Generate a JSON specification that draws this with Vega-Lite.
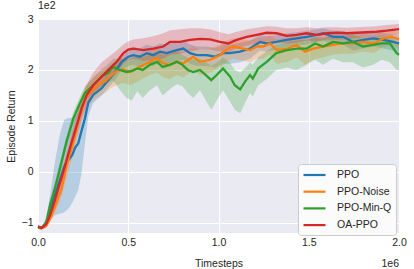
{
"$schema":"https://vega.github.io/schema/vega-lite/v6.json",
"autosize":"none",
"width":361,"height":214,
"padding":{"left":38,"top":19,"right":15,"bottom":36},
"background":"#ffffff",
"title":{"text":"1e2","anchor":"start","frame":"group","offset":3,"fontSize":10.5,"fontWeight":"normal","font":"Liberation Sans","color":"#262626"},
"datasets":{
"curves":[
{"s":"PPO","x":0,"y":-1.08,"lo":-1.12,"hi":-1.04},{"s":"PPO","x":0.02,"y":-1.1,"lo":-1.13,"hi":-1.07},{"s":"PPO","x":0.045,"y":-1.02,"lo":-1.1,"hi":-0.9},{"s":"PPO","x":0.067,"y":-0.78,"lo":-0.95,"hi":-0.45},{"s":"PPO","x":0.094,"y":-0.45,"lo":-0.85,"hi":0.2},{"s":"PPO","x":0.122,"y":-0.15,"lo":-0.82,"hi":0.75},{"s":"PPO","x":0.145,"y":0.1,"lo":-0.8,"hi":1.02},{"s":"PPO","x":0.16,"y":0.2,"lo":-0.75,"hi":1.05},{"s":"PPO","x":0.175,"y":0.26,"lo":-0.7,"hi":1.05},{"s":"PPO","x":0.19,"y":0.33,"lo":-0.6,"hi":1.06},{"s":"PPO","x":0.205,"y":0.47,"lo":-0.5,"hi":1.08},{"s":"PPO","x":0.223,"y":0.56,"lo":-0.35,"hi":1.15},{"s":"PPO","x":0.24,"y":0.79,"lo":-0.05,"hi":1.3},{"s":"PPO","x":0.26,"y":1.05,"lo":0.55,"hi":1.42},{"s":"PPO","x":0.279,"y":1.36,"lo":1.1,"hi":1.55},{"s":"PPO","x":0.306,"y":1.51,"lo":1.35,"hi":1.68},{"s":"PPO","x":0.353,"y":1.64,"lo":1.5,"hi":1.8},{"s":"PPO","x":0.39,"y":1.8,"lo":1.65,"hi":1.96},{"s":"PPO","x":0.427,"y":1.96,"lo":1.8,"hi":2.12},{"s":"PPO","x":0.464,"y":2.16,"lo":2.0,"hi":2.32},{"s":"PPO","x":0.5,"y":2.26,"lo":2.08,"hi":2.42},{"s":"PPO","x":0.528,"y":2.29,"lo":2.1,"hi":2.45},{"s":"PPO","x":0.565,"y":2.26,"lo":2.06,"hi":2.42},{"s":"PPO","x":0.602,"y":2.33,"lo":2.12,"hi":2.5},{"s":"PPO","x":0.639,"y":2.29,"lo":2.08,"hi":2.46},{"s":"PPO","x":0.676,"y":2.36,"lo":2.15,"hi":2.52},{"s":"PPO","x":0.713,"y":2.33,"lo":2.12,"hi":2.5},{"s":"PPO","x":0.768,"y":2.39,"lo":2.18,"hi":2.56},{"s":"PPO","x":0.805,"y":2.42,"lo":2.2,"hi":2.58},{"s":"PPO","x":0.842,"y":2.33,"lo":2.12,"hi":2.5},{"s":"PPO","x":0.879,"y":2.29,"lo":2.08,"hi":2.46},{"s":"PPO","x":0.935,"y":2.29,"lo":2.08,"hi":2.46},{"s":"PPO","x":0.98,"y":2.26,"lo":2.05,"hi":2.43},{"s":"PPO","x":1.027,"y":2.33,"lo":2.12,"hi":2.5},{"s":"PPO","x":1.064,"y":2.33,"lo":2.12,"hi":2.5},{"s":"PPO","x":1.119,"y":2.36,"lo":2.15,"hi":2.53},{"s":"PPO","x":1.175,"y":2.42,"lo":2.22,"hi":2.58},{"s":"PPO","x":1.23,"y":2.55,"lo":2.38,"hi":2.68},{"s":"PPO","x":1.267,"y":2.52,"lo":2.35,"hi":2.66},{"s":"PPO","x":1.322,"y":2.55,"lo":2.4,"hi":2.68},{"s":"PPO","x":1.378,"y":2.59,"lo":2.45,"hi":2.72},{"s":"PPO","x":1.433,"y":2.62,"lo":2.48,"hi":2.74},{"s":"PPO","x":1.489,"y":2.65,"lo":2.5,"hi":2.77},{"s":"PPO","x":1.544,"y":2.69,"lo":2.55,"hi":2.8},{"s":"PPO","x":1.58,"y":2.72,"lo":2.58,"hi":2.82},{"s":"PPO","x":1.636,"y":2.65,"lo":2.5,"hi":2.77},{"s":"PPO","x":1.69,"y":2.65,"lo":2.5,"hi":2.77},{"s":"PPO","x":1.747,"y":2.55,"lo":2.38,"hi":2.7},{"s":"PPO","x":1.8,"y":2.59,"lo":2.42,"hi":2.72},{"s":"PPO","x":1.858,"y":2.62,"lo":2.46,"hi":2.74},{"s":"PPO","x":1.913,"y":2.59,"lo":2.42,"hi":2.72},{"s":"PPO","x":1.968,"y":2.55,"lo":2.38,"hi":2.7},{"s":"PPO","x":2.0,"y":2.52,"lo":2.35,"hi":2.68},
{"s":"PPO-Noise","x":0,"y":-1.08,"lo":-1.12,"hi":-1.04},{"s":"PPO-Noise","x":0.02,"y":-1.1,"lo":-1.13,"hi":-1.07},{"s":"PPO-Noise","x":0.045,"y":-1.06,"lo":-1.1,"hi":-1.0},{"s":"PPO-Noise","x":0.067,"y":-0.92,"lo":-1.0,"hi":-0.8},{"s":"PPO-Noise","x":0.094,"y":-0.68,"lo":-0.8,"hi":-0.5},{"s":"PPO-Noise","x":0.131,"y":-0.33,"lo":-0.5,"hi":-0.1},{"s":"PPO-Noise","x":0.155,"y":0.07,"lo":-0.15,"hi":0.3},{"s":"PPO-Noise","x":0.196,"y":0.59,"lo":0.35,"hi":0.85},{"s":"PPO-Noise","x":0.22,"y":0.95,"lo":0.7,"hi":1.2},{"s":"PPO-Noise","x":0.26,"y":1.44,"lo":1.2,"hi":1.65},{"s":"PPO-Noise","x":0.306,"y":1.62,"lo":1.4,"hi":1.85},{"s":"PPO-Noise","x":0.343,"y":1.74,"lo":1.5,"hi":1.95},{"s":"PPO-Noise","x":0.371,"y":1.77,"lo":1.55,"hi":2.0},{"s":"PPO-Noise","x":0.408,"y":1.9,"lo":1.65,"hi":2.12},{"s":"PPO-Noise","x":0.436,"y":1.98,"lo":1.7,"hi":2.2},{"s":"PPO-Noise","x":0.47,"y":2.01,"lo":1.75,"hi":2.25},{"s":"PPO-Noise","x":0.51,"y":1.96,"lo":1.7,"hi":2.22},{"s":"PPO-Noise","x":0.565,"y":2.06,"lo":1.8,"hi":2.3},{"s":"PPO-Noise","x":0.62,"y":2.16,"lo":1.9,"hi":2.38},{"s":"PPO-Noise","x":0.657,"y":2.23,"lo":1.95,"hi":2.42},{"s":"PPO-Noise","x":0.694,"y":2.13,"lo":1.85,"hi":2.36},{"s":"PPO-Noise","x":0.73,"y":2.1,"lo":1.82,"hi":2.34},{"s":"PPO-Noise","x":0.768,"y":2.16,"lo":1.9,"hi":2.38},{"s":"PPO-Noise","x":0.805,"y":2.13,"lo":1.85,"hi":2.36},{"s":"PPO-Noise","x":0.86,"y":2.26,"lo":2.0,"hi":2.46},{"s":"PPO-Noise","x":0.897,"y":2.16,"lo":1.9,"hi":2.4},{"s":"PPO-Noise","x":0.953,"y":2.2,"lo":1.95,"hi":2.42},{"s":"PPO-Noise","x":1.008,"y":2.29,"lo":2.05,"hi":2.5},{"s":"PPO-Noise","x":1.045,"y":2.4,"lo":2.15,"hi":2.58},{"s":"PPO-Noise","x":1.08,"y":2.46,"lo":2.22,"hi":2.62},{"s":"PPO-Noise","x":1.137,"y":2.42,"lo":2.18,"hi":2.6},{"s":"PPO-Noise","x":1.175,"y":2.39,"lo":2.15,"hi":2.58},{"s":"PPO-Noise","x":1.212,"y":2.46,"lo":2.22,"hi":2.62},{"s":"PPO-Noise","x":1.248,"y":2.46,"lo":2.22,"hi":2.63},{"s":"PPO-Noise","x":1.285,"y":2.52,"lo":2.3,"hi":2.68},{"s":"PPO-Noise","x":1.322,"y":2.39,"lo":2.12,"hi":2.6},{"s":"PPO-Noise","x":1.378,"y":2.42,"lo":2.15,"hi":2.62},{"s":"PPO-Noise","x":1.433,"y":2.49,"lo":2.25,"hi":2.66},{"s":"PPO-Noise","x":1.479,"y":2.36,"lo":2.1,"hi":2.58},{"s":"PPO-Noise","x":1.525,"y":2.42,"lo":2.2,"hi":2.62},{"s":"PPO-Noise","x":1.58,"y":2.46,"lo":2.25,"hi":2.64},{"s":"PPO-Noise","x":1.636,"y":2.49,"lo":2.3,"hi":2.66},{"s":"PPO-Noise","x":1.69,"y":2.52,"lo":2.32,"hi":2.68},{"s":"PPO-Noise","x":1.747,"y":2.52,"lo":2.32,"hi":2.68},{"s":"PPO-Noise","x":1.8,"y":2.55,"lo":2.36,"hi":2.7},{"s":"PPO-Noise","x":1.858,"y":2.52,"lo":2.33,"hi":2.68},{"s":"PPO-Noise","x":1.913,"y":2.62,"lo":2.45,"hi":2.76},{"s":"PPO-Noise","x":1.96,"y":2.65,"lo":2.48,"hi":2.78},{"s":"PPO-Noise","x":2.0,"y":2.6,"lo":2.42,"hi":2.75},
{"s":"PPO-Min-Q","x":0,"y":-1.08,"lo":-1.11,"hi":-1.05},{"s":"PPO-Min-Q","x":0.02,"y":-1.1,"lo":-1.13,"hi":-1.07},{"s":"PPO-Min-Q","x":0.045,"y":-1.0,"lo":-1.05,"hi":-0.95},{"s":"PPO-Min-Q","x":0.067,"y":-0.65,"lo":-0.75,"hi":-0.55},{"s":"PPO-Min-Q","x":0.094,"y":-0.32,"lo":-0.43,"hi":-0.2},{"s":"PPO-Min-Q","x":0.122,"y":0.07,"lo":-0.06,"hi":0.2},{"s":"PPO-Min-Q","x":0.158,"y":0.59,"lo":0.45,"hi":0.72},{"s":"PPO-Min-Q","x":0.196,"y":1.05,"lo":0.9,"hi":1.18},{"s":"PPO-Min-Q","x":0.233,"y":1.35,"lo":1.2,"hi":1.48},{"s":"PPO-Min-Q","x":0.26,"y":1.55,"lo":1.4,"hi":1.68},{"s":"PPO-Min-Q","x":0.305,"y":1.7,"lo":1.55,"hi":1.85},{"s":"PPO-Min-Q","x":0.353,"y":1.87,"lo":1.7,"hi":2.02},{"s":"PPO-Min-Q","x":0.39,"y":1.95,"lo":1.75,"hi":2.12},{"s":"PPO-Min-Q","x":0.415,"y":2.06,"lo":1.8,"hi":2.22},{"s":"PPO-Min-Q","x":0.455,"y":2.0,"lo":1.6,"hi":2.22},{"s":"PPO-Min-Q","x":0.49,"y":1.96,"lo":1.45,"hi":2.2},{"s":"PPO-Min-Q","x":0.52,"y":1.98,"lo":1.4,"hi":2.24},{"s":"PPO-Min-Q","x":0.55,"y":2.03,"lo":1.58,"hi":2.26},{"s":"PPO-Min-Q","x":0.58,"y":2.0,"lo":1.45,"hi":2.25},{"s":"PPO-Min-Q","x":0.62,"y":2.1,"lo":1.6,"hi":2.3},{"s":"PPO-Min-Q","x":0.66,"y":2.16,"lo":1.7,"hi":2.36},{"s":"PPO-Min-Q","x":0.69,"y":2.06,"lo":1.5,"hi":2.3},{"s":"PPO-Min-Q","x":0.73,"y":2.1,"lo":1.62,"hi":2.32},{"s":"PPO-Min-Q","x":0.77,"y":2.16,"lo":1.72,"hi":2.36},{"s":"PPO-Min-Q","x":0.8,"y":2.1,"lo":1.68,"hi":2.3},{"s":"PPO-Min-Q","x":0.83,"y":2.0,"lo":1.55,"hi":2.24},{"s":"PPO-Min-Q","x":0.86,"y":1.96,"lo":1.45,"hi":2.2},{"s":"PPO-Min-Q","x":0.897,"y":2.0,"lo":1.6,"hi":2.22},{"s":"PPO-Min-Q","x":0.93,"y":1.9,"lo":1.4,"hi":2.15},{"s":"PPO-Min-Q","x":0.96,"y":1.8,"lo":1.22,"hi":2.08},{"s":"PPO-Min-Q","x":0.99,"y":1.9,"lo":1.4,"hi":2.14},{"s":"PPO-Min-Q","x":1.025,"y":2.03,"lo":1.6,"hi":2.25},{"s":"PPO-Min-Q","x":1.064,"y":1.87,"lo":1.38,"hi":2.14},{"s":"PPO-Min-Q","x":1.09,"y":1.7,"lo":1.22,"hi":2.0},{"s":"PPO-Min-Q","x":1.12,"y":1.62,"lo":1.15,"hi":1.95},{"s":"PPO-Min-Q","x":1.147,"y":1.77,"lo":1.35,"hi":2.04},{"s":"PPO-Min-Q","x":1.175,"y":1.9,"lo":1.55,"hi":2.14},{"s":"PPO-Min-Q","x":1.19,"y":1.83,"lo":1.48,"hi":2.1},{"s":"PPO-Min-Q","x":1.22,"y":2.03,"lo":1.7,"hi":2.25},{"s":"PPO-Min-Q","x":1.267,"y":2.16,"lo":1.82,"hi":2.36},{"s":"PPO-Min-Q","x":1.32,"y":2.33,"lo":2.0,"hi":2.5},{"s":"PPO-Min-Q","x":1.378,"y":2.39,"lo":2.05,"hi":2.55},{"s":"PPO-Min-Q","x":1.433,"y":2.42,"lo":2.0,"hi":2.58},{"s":"PPO-Min-Q","x":1.489,"y":2.42,"lo":2.1,"hi":2.6},{"s":"PPO-Min-Q","x":1.535,"y":2.52,"lo":2.2,"hi":2.65},{"s":"PPO-Min-Q","x":1.579,"y":2.46,"lo":2.1,"hi":2.62},{"s":"PPO-Min-Q","x":1.634,"y":2.55,"lo":2.22,"hi":2.68},{"s":"PPO-Min-Q","x":1.69,"y":2.52,"lo":2.15,"hi":2.66},{"s":"PPO-Min-Q","x":1.745,"y":2.55,"lo":2.15,"hi":2.7},{"s":"PPO-Min-Q","x":1.8,"y":2.46,"lo":2.05,"hi":2.62},{"s":"PPO-Min-Q","x":1.856,"y":2.49,"lo":2.1,"hi":2.65},{"s":"PPO-Min-Q","x":1.904,"y":2.52,"lo":2.2,"hi":2.66},{"s":"PPO-Min-Q","x":1.95,"y":2.52,"lo":2.15,"hi":2.66},{"s":"PPO-Min-Q","x":1.987,"y":2.33,"lo":2.0,"hi":2.55},{"s":"PPO-Min-Q","x":2.0,"y":2.3,"lo":2.0,"hi":2.52},
{"s":"OA-PPO","x":0,"y":-1.08,"lo":-1.11,"hi":-1.05},{"s":"OA-PPO","x":0.02,"y":-1.1,"lo":-1.13,"hi":-1.07},{"s":"OA-PPO","x":0.045,"y":-1.03,"lo":-1.08,"hi":-0.97},{"s":"OA-PPO","x":0.067,"y":-0.85,"lo":-0.95,"hi":-0.74},{"s":"OA-PPO","x":0.094,"y":-0.55,"lo":-0.68,"hi":-0.42},{"s":"OA-PPO","x":0.112,"y":-0.33,"lo":-0.47,"hi":-0.19},{"s":"OA-PPO","x":0.146,"y":0.07,"lo":-0.1,"hi":0.24},{"s":"OA-PPO","x":0.187,"y":0.59,"lo":0.4,"hi":0.78},{"s":"OA-PPO","x":0.226,"y":1.05,"lo":0.85,"hi":1.25},{"s":"OA-PPO","x":0.242,"y":1.25,"lo":1.05,"hi":1.45},{"s":"OA-PPO","x":0.27,"y":1.51,"lo":1.3,"hi":1.72},{"s":"OA-PPO","x":0.306,"y":1.7,"lo":1.5,"hi":1.95},{"s":"OA-PPO","x":0.353,"y":1.87,"lo":1.65,"hi":2.15},{"s":"OA-PPO","x":0.399,"y":2.03,"lo":1.82,"hi":2.28},{"s":"OA-PPO","x":0.436,"y":2.16,"lo":1.95,"hi":2.38},{"s":"OA-PPO","x":0.473,"y":2.33,"lo":2.12,"hi":2.5},{"s":"OA-PPO","x":0.5,"y":2.4,"lo":2.2,"hi":2.56},{"s":"OA-PPO","x":0.528,"y":2.42,"lo":2.22,"hi":2.6},{"s":"OA-PPO","x":0.583,"y":2.39,"lo":2.18,"hi":2.62},{"s":"OA-PPO","x":0.639,"y":2.42,"lo":2.2,"hi":2.66},{"s":"OA-PPO","x":0.694,"y":2.46,"lo":2.22,"hi":2.72},{"s":"OA-PPO","x":0.731,"y":2.55,"lo":2.3,"hi":2.78},{"s":"OA-PPO","x":0.787,"y":2.55,"lo":2.32,"hi":2.8},{"s":"OA-PPO","x":0.842,"y":2.59,"lo":2.36,"hi":2.82},{"s":"OA-PPO","x":0.897,"y":2.61,"lo":2.4,"hi":2.82},{"s":"OA-PPO","x":0.953,"y":2.6,"lo":2.4,"hi":2.8},{"s":"OA-PPO","x":1.008,"y":2.55,"lo":2.36,"hi":2.74},{"s":"OA-PPO","x":1.054,"y":2.52,"lo":2.34,"hi":2.7},{"s":"OA-PPO","x":1.1,"y":2.59,"lo":2.42,"hi":2.75},{"s":"OA-PPO","x":1.156,"y":2.65,"lo":2.48,"hi":2.8},{"s":"OA-PPO","x":1.212,"y":2.69,"lo":2.52,"hi":2.83},{"s":"OA-PPO","x":1.267,"y":2.73,"lo":2.56,"hi":2.86},{"s":"OA-PPO","x":1.322,"y":2.72,"lo":2.56,"hi":2.85},{"s":"OA-PPO","x":1.378,"y":2.67,"lo":2.52,"hi":2.82},{"s":"OA-PPO","x":1.433,"y":2.69,"lo":2.54,"hi":2.82},{"s":"OA-PPO","x":1.489,"y":2.72,"lo":2.58,"hi":2.84},{"s":"OA-PPO","x":1.544,"y":2.69,"lo":2.56,"hi":2.82},{"s":"OA-PPO","x":1.6,"y":2.72,"lo":2.6,"hi":2.84},{"s":"OA-PPO","x":1.655,"y":2.73,"lo":2.6,"hi":2.84},{"s":"OA-PPO","x":1.71,"y":2.72,"lo":2.6,"hi":2.83},{"s":"OA-PPO","x":1.766,"y":2.73,"lo":2.62,"hi":2.84},{"s":"OA-PPO","x":1.82,"y":2.74,"lo":2.63,"hi":2.85},{"s":"OA-PPO","x":1.876,"y":2.75,"lo":2.64,"hi":2.86},{"s":"OA-PPO","x":1.932,"y":2.77,"lo":2.66,"hi":2.88},{"s":"OA-PPO","x":2.0,"y":2.8,"lo":2.7,"hi":2.9}
]
},
"data":{"name":"curves"},
"layer":[
{"mark":{"type":"area","opacity":0.25},
 "encoding":{
  "x":{"field":"x","type":"quantitative","scale":{"domain":[0,2],"nice":false},"axis":{"values":[0,0.5,1,1.5,2],"format":".1f","title":"Timesteps","labelPadding":4,"titlePadding":11,"labelFlush":false}},
  "y":{"field":"lo","type":"quantitative","scale":{"domain":[-1.2,3],"nice":false,"zero":false},"axis":{"values":[-1,0,1,2,3],"format":"d","title":"Episode Return","labelPadding":5,"titlePadding":5,"labelFlush":false}},
  "y2":{"field":"hi"},
  "color":{"field":"s","type":"nominal","scale":{"domain":["PPO","PPO-Noise","PPO-Min-Q","OA-PPO"],"range":["#1f77b4","#ff7f0e","#2ca02c","#d62728"]}}
 }},
{"mark":{"type":"line","strokeWidth":2.3},
 "encoding":{
  "x":{"field":"x","type":"quantitative"},
  "y":{"field":"y","type":"quantitative"},
  "color":{"field":"s","type":"nominal"}
 }},
{"data":{"values":[{"t":"1e6"}]},
 "mark":{"type":"text","align":"right","baseline":"alphabetic","dy":34,"fontSize":10.5,"font":"Liberation Sans","color":"#262626"},
 "encoding":{"x":{"datum":2,"type":"quantitative"},"y":{"datum":-1.2,"type":"quantitative"},"text":{"field":"t"}}}
],
"config":{
 "view":{"fill":"#EAEAF2","stroke":null},
 "font":"Liberation Sans",
 "axis":{"grid":true,"gridColor":"#ffffff","gridWidth":1,"domain":false,"ticks":false,"labelColor":"#262626","titleColor":"#262626","labelFontSize":10.5,"titleFontSize":10.5,"titleFontWeight":"normal","labelFont":"Liberation Sans","titleFont":"Liberation Sans"},
 "legend":{"title":null,"orient":"none","legendX":260,"legendY":145,"fillColor":"#fbfbfc","strokeColor":"#cccccc","cornerRadius":3,"padding":4,"rowPadding":3.7,"labelFontSize":10.5,"labelColor":"#262626","labelFont":"Liberation Sans","symbolType":"M-1,0H3","symbolSize":121,"symbolStrokeWidth":2.2,"labelOffset":21,"symbolFillColor":"transparent","symbolOpacity":1}
}
}
